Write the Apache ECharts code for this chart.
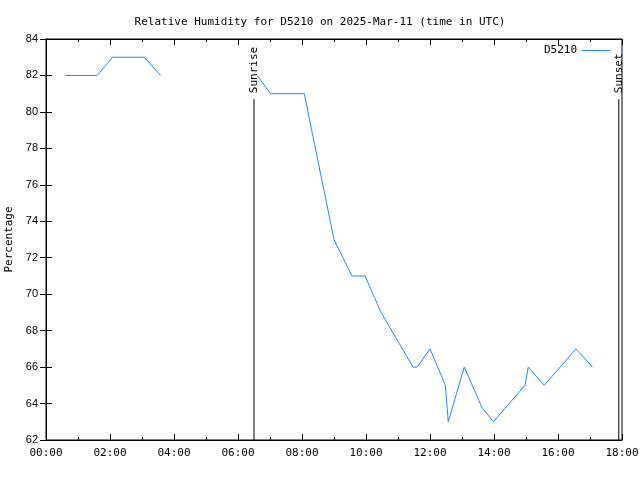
<!DOCTYPE html>
<html><head><meta charset="utf-8">
<script src="https://cdn.jsdelivr.net/npm/echarts@6/dist/echarts.min.js"></script>
<style>html,body{margin:0;padding:0;background:#fff}#c{width:640px;height:480px}</style>
</head><body><div id="c"></div>
<script>
// time in decimal hours (UTC), null breaks the line
const times = [0.6, 1.6, 2.08, 3.07, 3.58, null, 6.6, 7.02, 8.07, 9.0, 9.56, 9.97, 10.47, 11.47, 11.6, 12.0, 12.48, 12.57, 13.07, 13.62, 13.98, 14.97, 15.07, 15.57, 16.56, 17.08];
const humidity = [82, 82, 83, 83, 82, null, 82, 81, 81, 73, 71, 71, 69, 66, 66, 67, 65, 63, 66, 63.8, 63, 65, 66, 65, 67, 66];
const sunrise = 6.5;
const sunset = 17.9;
const sunLineTop = 80.7;
const yMin = 62, yMax = 84;
const xTickLabels = ['00:00','02:00','04:00','06:00','08:00','10:00','12:00','14:00','16:00','18:00'];

const seriesData = times.map((t, i) => t === null ? [null, null] : [t, humidity[i]]);
const font = 'DejaVu Sans Mono';
const chart = echarts.init(document.getElementById('c'), null, {renderer: 'canvas'});

function sunSeries(name, x) {
  return {
    name: name, type: 'line', silent: true, symbol: 'circle', symbolSize: 0, showSymbol: true, z: 1,
    lineStyle: {color: '#000', width: 1}, itemStyle: {color: '#000'},
    data: [
      [x, yMin],
      {value: [x, sunLineTop], label: {show: true, formatter: name, rotate: 90, position: 'top', distance: 6,
        align: 'left', verticalAlign: 'middle', color: '#000', fontFamily: font, fontSize: 11}}
    ]
  };
}

const xBase = {
  type: 'value', min: 0, max: 18, interval: 2,
  axisLine: {show: true, lineStyle: {color: '#000'}},
  axisTick: {show: true, inside: true, length: 6, lineStyle: {color: '#000'}},
  minorTick: {show: true, splitNumber: 2, length: 3, lineStyle: {color: '#000'}},
  splitLine: {show: false}
};
const yBase = {
  type: 'value', min: yMin, max: yMax, interval: 2,
  axisLine: {show: true, lineStyle: {color: '#000'}},
  axisTick: {show: true, inside: true, length: 6, lineStyle: {color: '#000'}},
  splitLine: {show: false}
};

chart.setOption({
  animation: false,
  backgroundColor: '#fff',
  title: {text: 'Relative Humidity for D5210 on 2025-Mar-11 (time in UTC)', left: 'center', top: 12,
    textStyle: {fontFamily: font, fontSize: 11, fontWeight: 'normal', color: '#000'}},
  legend: {data: [{name: 'D5210', icon: 'path://M0,0 L30,0 L30,1 L0,1 Z'}], right: 25, top: 40, align: 'right',
    itemWidth: 28, itemHeight: 1, itemGap: 6,
    textStyle: {fontFamily: font, fontSize: 11, color: '#000'}},
  grid: {left: 46, right: 18, top: 39, bottom: 40, containLabel: false, outerBoundsMode: 'none',
    show: true, borderColor: '#000', borderWidth: 1},
  xAxis: [
    Object.assign({}, xBase, {position: 'bottom',
      axisLabel: {fontFamily: font, fontSize: 11, color: '#000', margin: 8,
        formatter: v => xTickLabels[Math.round(v / 2)]}}),
    Object.assign({}, xBase, {position: 'top', axisLabel: {show: false}})
  ],
  yAxis: [
    Object.assign({}, yBase, {position: 'left',
      name: 'Percentage', nameLocation: 'middle', nameGap: 28, nameRotate: 90,
      nameTextStyle: {fontFamily: font, fontSize: 11, color: '#000'},
      axisLabel: {fontFamily: 'Liberation Sans', fontSize: 11, color: '#000', margin: 8}}),
    Object.assign({}, yBase, {position: 'right', axisLabel: {show: false}})
  ],
  series: [
    sunSeries('Sunrise', sunrise),
    sunSeries('Sunset', sunset),
    {name: 'D5210', type: 'line', data: seriesData, symbol: 'none', connectNulls: false, z: 3,
      lineStyle: {color: '#1a8cff', width: 1}, itemStyle: {color: '#1a8cff'}}
  ]
});
</script></body></html>
